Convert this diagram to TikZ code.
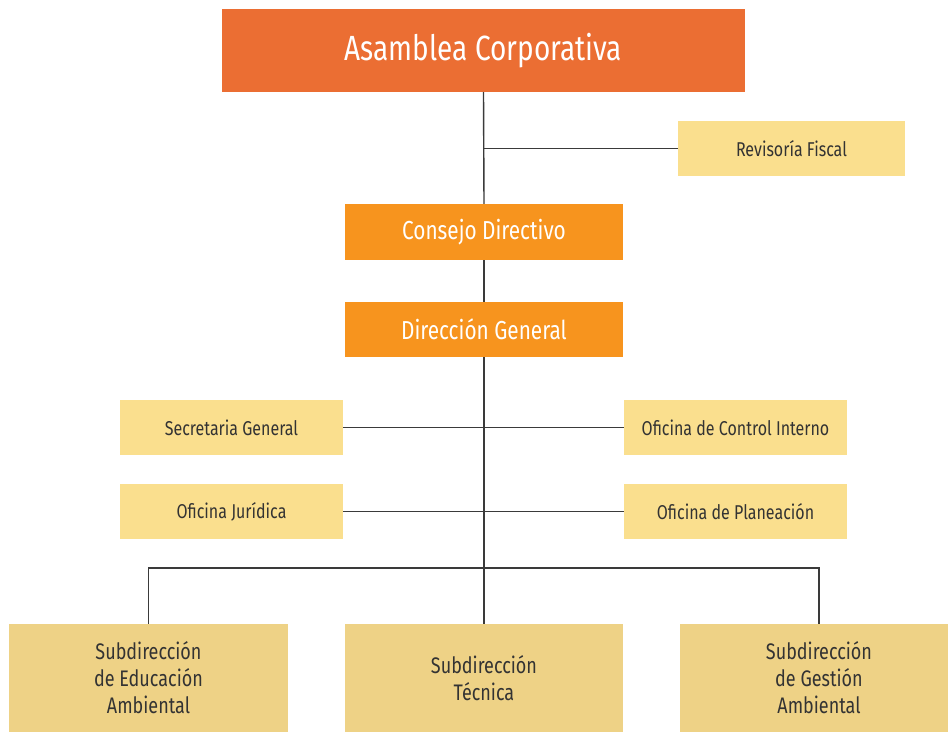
\documentclass[tikz,border=0pt]{standalone}
\usepackage{fontspec}
\setmainfont{Fira Sans}[FakeStretch=0.8]
\definecolor{asam}{HTML}{EB6E33}
\definecolor{ora}{HTML}{F7941E}
\definecolor{ylw}{HTML}{FADF8E}
\definecolor{sub}{HTML}{EED286}
\definecolor{txt}{HTML}{333333}
\definecolor{ln}{HTML}{3A3A3A}
\tikzset{
  top/.style={fill=asam, text=white, minimum width=523pt, minimum height=83pt, font=\fontsize{35}{40}\selectfont, inner sep=0pt},
  mid/.style={fill=ora, text=white, minimum width=278pt, minimum height=56pt, font=\fontsize{26}{30}\selectfont, inner sep=0pt},
  office/.style={fill=ylw, text=txt, minimum width=223pt, minimum height=55pt, font=\fontsize{20}{24}\selectfont, inner sep=0pt},
  subbox/.style={fill=sub, text=txt, minimum width=279pt, minimum height=108pt, font=\fontsize{22.5}{27}\selectfont, align=center, inner sep=0pt},
  conn/.style={draw=ln, line width=1.4pt}
}
\begin{document}
\begin{tikzpicture}[x=1pt,y=1pt]
\useasboundingbox (0,0) rectangle (948,732);
\fill[white] (0,0) rectangle (948,732);
\node[top] (asam) at (483.5,681.5) {Asamblea Corporativa};
\node[office, minimum width=227pt] (rev) at (791.5,583.5) {Revisoría Fiscal};
\node[mid] (cons) at (484,500) {Consejo Directivo};
\node[mid, minimum height=55pt] (dir) at (484,402.5) {Dirección General};
\node[office] (sec) at (231.5,304.5) {Secretaria General};
\node[office] (ctrl) at (735.5,304.5) {Oficina de Control Interno};
\node[office] (jur) at (231.5,220.5) {Oficina Jurídica};
\node[office] (plan) at (735.5,220.5) {Oficina de Planeación};
\node[subbox] (edu) at (148.5,54) {Subdirección\\de Educación\\Ambiental};
\node[subbox, minimum width=278pt] (tec) at (484,54) {Subdirección\\Técnica};
\node[subbox] (ges) at (819,54) {Subdirección\\de Gestión\\Ambiental};
\coordinate (revj) at (asam.south |- rev.west);
\coordinate (bar) at (484,164);
\draw[conn] (asam.south) -- (cons.north);
\draw[conn] (revj) -- (rev.west);
\draw[conn] (cons.south) -- (dir.north);
\draw[conn] (dir.south) -- (tec.north);
\draw[conn] (sec.east) -- (ctrl.west);
\draw[conn] (jur.east) -- (plan.west);
\draw[conn] (edu.north) |- (bar) -| (ges.north);
\end{tikzpicture}
\end{document}
